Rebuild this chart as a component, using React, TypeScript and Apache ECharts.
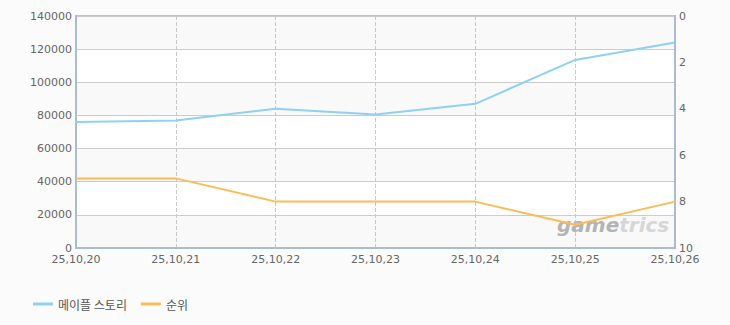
import React, { useEffect, useRef } from "react";
import * as echarts from "echarts";

const categories = ["25,10,20", "25,10,21", "25,10,22", "25,10,23", "25,10,24", "25,10,25", "25,10,26"];
const playerValues = [76000, 77000, 84000, 80500, 87000, 113500, 124000];
const rankValues = [7, 7, 8, 8, 8, 9, 8];
const seriesNames = ["메이플 스토리", "순위"];

export default function App() {
  const ref = useRef<HTMLDivElement>(null);
  useEffect(() => {
    document.body.style.margin = "0";
    const chart = echarts.init(ref.current!, null, { renderer: "svg" });
    const font = "'DejaVu Sans', 'Noto Sans CJK KR', sans-serif";
    chart.setOption({
      animation: false,
      backgroundColor: "#fbfbfb",
      textStyle: { fontFamily: font },
      grid: {
        left: 76,
        right: 55,
        top: 16,
        bottom: 77,
        show: true,
        borderColor: "#b3c5d8",
        borderWidth: 2,
        backgroundColor: "transparent",
      },
      legend: {
        left: 28,
        top: 293,
        itemWidth: 20,
        itemHeight: 3,
        itemGap: 14,
        icon: "rect",
        textStyle: { color: "#555", fontSize: 12, fontFamily: "'Noto Sans CJK KR', sans-serif" },
        data: seriesNames,
      },
      xAxis: {
        type: "category",
        data: categories,
        boundaryGap: false,
        axisLine: { lineStyle: { color: "#a9bdd2", width: 2 } },
        axisTick: { show: false },
        axisLabel: { color: "#666", fontSize: 11, margin: 6 },
        splitLine: { show: true, lineStyle: { color: "#c8c8c8", type: "dashed" } },
      },
      yAxis: [
        {
          type: "value",
          min: 0,
          max: 140000,
          interval: 20000,
          axisLine: { show: true, lineStyle: { color: "#a9bdd2", width: 2 } },
          axisTick: { show: false },
          axisLabel: { color: "#666", fontSize: 11, margin: 4, formatter: (v: number) => String(v) },
          splitLine: { lineStyle: { color: "#cccccc" } },
          splitArea: { show: true, areaStyle: { color: ["#f9f9f9", "#ffffff"] } },
        },
        {
          type: "value",
          min: 0,
          max: 10,
          interval: 2,
          inverse: true,
          position: "right",
          axisLine: { show: true, lineStyle: { color: "#a9bdd2", width: 2 } },
          axisTick: { show: false },
          axisLabel: { color: "#666", fontSize: 11, margin: 4 },
          splitLine: { show: false },
        },
      ],
      graphic: {
        elements: [
          {
            type: "text",
            left: 557,
            top: 215,
            z: 2,
            style: {
              text: "{a|game}{b|trics}",
              rich: {
                a: { fill: "#b4b4b4", font: "italic bold 20px 'DejaVu Sans', sans-serif" },
                b: { fill: "#d6d6d6", font: "italic bold 20px 'DejaVu Sans', sans-serif" },
              },
            },
          },
        ],
      },
      series: [
        {
          name: seriesNames[0],
          type: "line",
          data: playerValues,
          yAxisIndex: 0,
          showSymbol: false,
          lineStyle: { color: "#8fd1f0", width: 2 },
          itemStyle: { color: "#8fd1f0" },
          z: 3,
        },
        {
          name: seriesNames[1],
          type: "line",
          data: rankValues,
          yAxisIndex: 1,
          showSymbol: false,
          lineStyle: { color: "#fbbc58", width: 2 },
          itemStyle: { color: "#fbbc58" },
          z: 3,
        },
      ],
    });
    return () => chart.dispose();
  }, []);
  return <div ref={ref} style={{ width: 730, height: 325 }} />;
}
